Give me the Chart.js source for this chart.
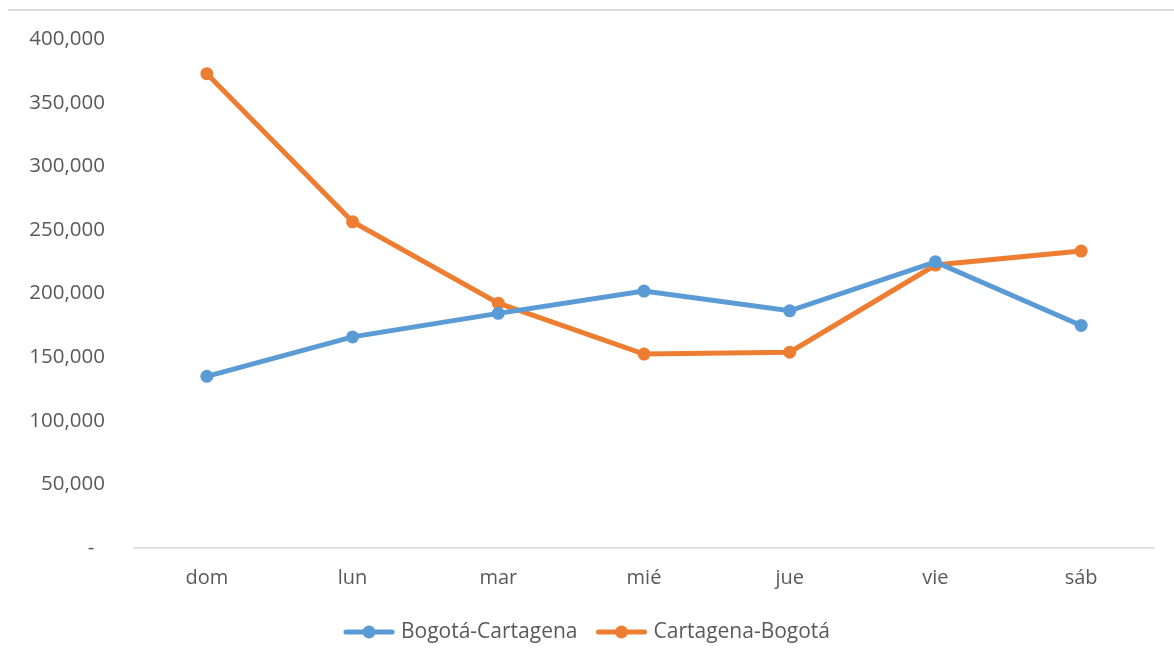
<!DOCTYPE html>
<html>
<head>
<meta charset="utf-8">
<script src="https://cdn.jsdelivr.net/npm/chart.js@4/dist/chart.umd.min.js"></script>
<style>
  html, body { margin: 0; padding: 0; background: #ffffff; }
  #wrap { position: relative; width: 1174px; height: 658px; overflow: hidden; }
  #topRule { position: absolute; left: 8px; right: 0; top: 9px; height: 2px; background: #dcdcdc; z-index: 1; }
  canvas { position: absolute; left: 0; top: -2px; }
</style>
</head>
<body>
<div id="wrap">
  <div id="topRule"></div>
  <canvas id="chart" width="1174" height="658"></canvas>
</div>
<script>
// Days of the week (Spanish abbreviations)
const days = ['dom', 'lun', 'mar', 'mié', 'jue', 'vie', 'sáb'];

// Passengers per weekday on each route
const bogotaCartagena = [135000, 166000, 184500, 202000, 186500, 225000, 175000];
const cartagenaBogota = [373000, 256500, 192500, 152500, 154000, 222500, 233500];

const seriesNames = ['Bogotá-Cartagena', 'Cartagena-Bogotá'];
const seriesColors = ['#5B9BD5', '#ED7D31'];

const yTicks = [0, 50000, 100000, 150000, 200000, 250000, 300000, 350000, 400000];

const FONT = '"Open Sans", "Noto Sans", sans-serif';
const TEXT = '#595959';

// Legend drawn below the plot: a short line with a dot, then the series name
const bottomLegend = {
  id: 'bottomLegend',
  afterDraw(chart) {
    const ctx = chart.ctx;
    const y = 634;
    const lineLen = 50, gapText = 7, gapItem = 19;
    ctx.save();
    ctx.font = '21px ' + FONT;
    const items = chart.data.datasets.map(ds => ({
      ds, w: lineLen + gapText + ctx.measureText(ds.label).width
    }));
    const total = items.reduce((s, it) => s + it.w, 0) + gapItem * (items.length - 1);
    let x = chart.width / 2 - total / 2;
    items.forEach(it => {
      ctx.strokeStyle = it.ds.borderColor;
      ctx.lineWidth = 5;
      ctx.lineCap = 'round';
      ctx.beginPath();
      ctx.moveTo(x + 2, y);
      ctx.lineTo(x + lineLen - 2, y);
      ctx.stroke();
      ctx.fillStyle = it.ds.borderColor;
      ctx.beginPath();
      ctx.arc(x + lineLen / 2, y, 6.5, 0, Math.PI * 2);
      ctx.fill();
      ctx.fillStyle = TEXT;
      ctx.textBaseline = 'middle';
      ctx.textAlign = 'left';
      ctx.fillText(it.ds.label, x + lineLen + gapText, y);
      x += it.w + gapItem;
    });
    ctx.restore();
  }
};

new Chart(document.getElementById('chart'), {
  type: 'line',
  data: {
    labels: days,
    datasets: [
      {
        label: seriesNames[0],
        data: bogotaCartagena,
        borderColor: seriesColors[0],
        backgroundColor: seriesColors[0],
        borderWidth: 5,
        pointRadius: 6.5,
        pointBorderWidth: 0,
        tension: 0
      },
      {
        label: seriesNames[1],
        data: cartagenaBogota,
        borderColor: seriesColors[1],
        backgroundColor: seriesColors[1],
        borderWidth: 5,
        pointRadius: 6.5,
        pointBorderWidth: 0,
        tension: 0
      }
    ]
  },
  options: {
    responsive: false,
    animation: false,
    layout: { padding: { top: 29, right: 20, bottom: 58, left: 0 } },
    plugins: {
      legend: { display: false },
      tooltip: { enabled: false }
    },
    scales: {
      x: {
        offset: true,
        grid: { display: false, drawTicks: false },
        border: { display: true, color: '#d9d9d9', width: 1.5 },
        ticks: { color: TEXT, font: { family: FONT, size: 20 }, padding: 18 },
        afterFit(scale) { scale.height = 50; }
      },
      y: {
        min: 0,
        max: 400000,
        grid: { display: false, drawTicks: false },
        border: { display: false },
        afterBuildTicks(scale) { scale.ticks = yTicks.map(v => ({ value: v })); },
        ticks: {
          color: TEXT,
          font: { family: FONT, size: 20.5 },
          padding: 29,
          callback: v => v === 0 ? '-  ' : v.toLocaleString('en-US')
        },
        afterFit(scale) { scale.width = 134; }
      }
    }
  },
  plugins: [bottomLegend]
});
</script>
</body>
</html>
